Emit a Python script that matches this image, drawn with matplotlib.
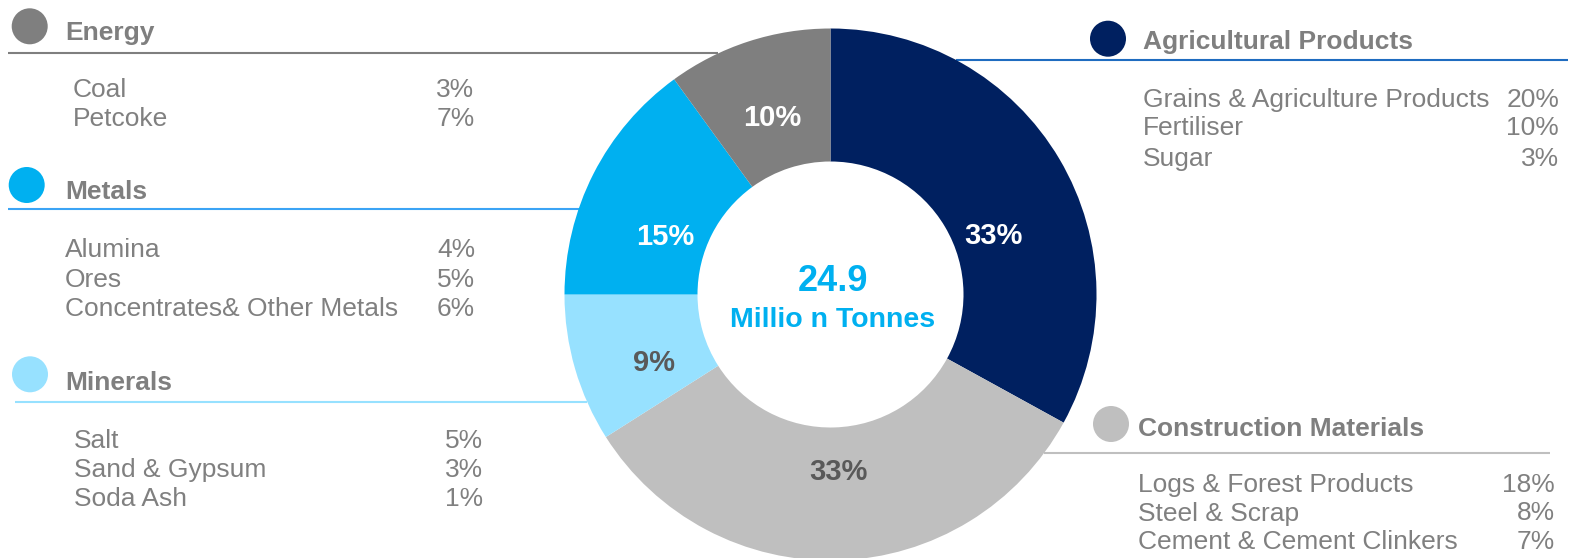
import numpy as np
import matplotlib
matplotlib.use("Agg")
import matplotlib.pyplot as plt
from matplotlib.patches import Circle

plt.rcParams['font.family'] = ['Liberation Sans', 'DejaVu Sans']

# ---------------- data ----------------
categories = ["Agricultural Products", "Construction Materials", "Minerals", "Metals", "Energy"]
shares = [33, 33, 9, 15, 10]
total_volume = "24.9"
total_unit = "Millio n Tonnes"

energy_items = ["Coal", "Petcoke"]
energy_vals = [3, 7]
metals_items = ["Alumina", "Ores", "Concentrates& Other Metals"]
metals_vals = [4, 5, 6]
minerals_items = ["Salt", "Sand & Gypsum", "Soda Ash"]
minerals_vals = [5, 3, 1]
agri_items = ["Grains & Agriculture Products", "Fertiliser", "Sugar"]
agri_vals = [20, 10, 3]
constr_items = ["Logs & Forest Products", "Steel & Scrap", "Cement & Cement Clinkers"]
constr_vals = [18, 8, 7]

# ---------------- styles ----------------
slice_colors = ["#002060", "#BFBFBF", "#97E1FF", "#00B0F0", "#7F7F7F"]
label_colors = ["white", "#595959", "#595959", "white", "white"]
line_colors = {"Energy": "#7F7F7F", "Metals": "#3BA4F5", "Minerals": "#97E1FF",
               "Agricultural Products": "#1F6CC0", "Construction Materials": "#BFBFBF"}
TEXT_GRAY = "#808080"

W, H = 1569, 558
fig = plt.figure(figsize=(W / 100, H / 100), dpi=100)
ax = fig.add_axes([0, 0, 1, 1])
ax.set_xlim(0, W)
ax.set_ylim(0, H)
ax.axis("off")

def Y(y):  # convert from top-based pixel layout to axis coordinates
    return H - y

CX, CY, R = 830.5, Y(294.5), 266
wedges, _ = ax.pie(shares, colors=slice_colors, startangle=90, counterclock=False,
                   center=(CX, CY), radius=R, wedgeprops=dict(width=R / 2, linewidth=0),
                   frame=True)
for w in wedges:
    w.set_zorder(2)
ax.set_xlim(0, W)
ax.set_ylim(0, H)
ax.set_aspect("equal")
ax.axis("off")

# slice labels
angle_shift = [-10.2, 0.8, 4.3, 7.0, 0.0]
radius_frac = [0.655, 0.66, 0.71, 0.66, 0.706]
for w, s, col, dth, rf in zip(wedges, shares, label_colors, angle_shift, radius_frac):
    th = np.deg2rad((w.theta1 + w.theta2) / 2 + dth)
    x = CX + rf * R * np.cos(th)
    y = CY + rf * R * np.sin(th)
    ax.text(x, y - 10.5, f"{s}%", ha="center", va="baseline", fontsize=21,
            fontweight="bold", color=col, zorder=5)

# center text
ax.text(833, Y(291), total_volume, ha="center", va="baseline", fontsize=26,
        fontweight="bold", color="#00B0F0", zorder=5)
ax.text(833, Y(327), total_unit, ha="center", va="baseline", fontsize=20.5,
        fontweight="bold", color="#00B0F0", zorder=5)

def ring_edge_x(y_top, side):
    dy = Y(y_top) - CY
    return CX + side * np.sqrt(max(R ** 2 - dy ** 2, 0.0))

# legend groups  (line: y, outer x end, side of the donut it touches)
groups = [
    dict(name="Energy", color=slice_colors[4], circ=(29.7, 26.3), head=(65, 40),
         line=(53.3, 8, -1), items=energy_items, vals=energy_vals, ix=72.7,
         rows=[96.7, 126], vx=474.5),
    dict(name="Metals", color=slice_colors[3], circ=(26.7, 185), head=(65, 199.3),
         line=(209, 8, -1), items=metals_items, vals=metals_vals, ix=65,
         rows=[257.3, 286.7, 315.7], vx=475),
    dict(name="Minerals", color=slice_colors[2], circ=(30, 374.3), head=(65, 390),
         line=(401.7, 15, -1), items=minerals_items, vals=minerals_vals, ix=74,
         rows=[447.7, 476.7, 505.7], vx=483.3),
    dict(name="Agricultural Products", color=slice_colors[0], circ=(1108, 38.7),
         head=(1142.7, 49.3), line=(60, 1568, 1), items=agri_items, vals=agri_vals,
         ix=1142.7, rows=[107.3, 135, 165.7], vx=1559),
    dict(name="Construction Materials", color=slice_colors[1], circ=(1111, 424),
         head=(1138, 435.5), line=(453, 1550, 1), items=constr_items, vals=constr_vals,
         ix=1138, rows=[492, 520.5, 549], vx=1555),
]

for g in groups:
    cx, cy = g["circ"]
    ax.add_patch(Circle((cx, Y(cy)), 18, facecolor=g["color"], edgecolor="none", zorder=3))
    hx, hy = g["head"]
    ax.text(hx, Y(hy), g["name"], ha="left", va="baseline", fontsize=19,
            fontweight="bold", color="#7F7F7F", zorder=4)
    ly, lx_out, side = g["line"]
    lx_in = ring_edge_x(ly, side)
    ax.plot([lx_out, lx_in], [Y(ly), Y(ly)], color=line_colors[g["name"]], lw=1.5,
            zorder=1, solid_capstyle="butt")
    for name, v, ry in zip(g["items"], g["vals"], g["rows"]):
        ax.text(g["ix"], Y(ry), name, ha="left", va="baseline", fontsize=19,
                color=TEXT_GRAY, zorder=4)
        ax.text(g["vx"], Y(ry), f"{v}%", ha="right", va="baseline", fontsize=19,
                color=TEXT_GRAY, zorder=4)

fig.savefig("out.png", dpi=100, facecolor="white")
